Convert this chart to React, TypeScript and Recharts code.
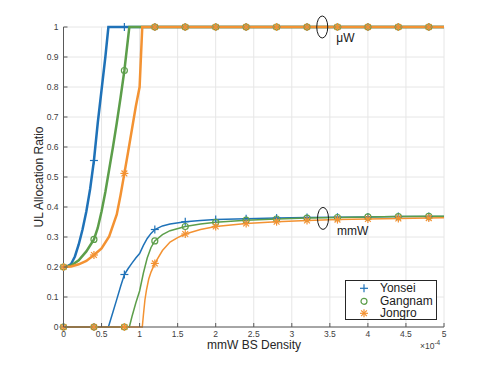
import React from "react"
import {
  ComposedChart,
  Line,
  XAxis,
  YAxis,
  CartesianGrid,
  ReferenceDot,
} from "recharts"

// marker positions along x (units of 1e-4)
const markerX = [0, 0.4, 0.8, 1.2, 1.6, 2.0, 2.4, 2.8, 3.2, 3.6, 4.0, 4.4, 4.8]
const xTicks = [0, 0.5, 1, 1.5, 2, 2.5, 3, 3.5, 4, 4.5, 5]
const yTicks = [0, 0.1, 0.2, 0.3, 0.4, 0.5, 0.6, 0.7, 0.8, 0.9, 1]

const plateau: [number, number][] = [
  [1.2, 1], [1.6, 1], [2.0, 1], [2.4, 1], [2.8, 1], [3.2, 1], [3.6, 1], [4.0, 1], [4.4, 1], [4.8, 1], [5, 1],
]

const yonseiUw: [number, number][] = [
  [0, 0.2], [0.05, 0.202], [0.1, 0.21], [0.15, 0.235], [0.2, 0.275], [0.25, 0.325],
  [0.3, 0.385], [0.35, 0.46], [0.4, 0.555], [0.45, 0.68], [0.5, 0.79], [0.55, 0.9],
  [0.59, 1], [0.8, 1], ...plateau,
]
const gangnamUw: [number, number][] = [
  [0, 0.2], [0.1, 0.205], [0.2, 0.222], [0.3, 0.252], [0.4, 0.292], [0.45, 0.33],
  [0.5, 0.385], [0.55, 0.45], [0.6, 0.525], [0.65, 0.6], [0.7, 0.68], [0.75, 0.765],
  [0.8, 0.855], [0.865, 1], ...plateau,
]
const jongroUw: [number, number][] = [
  [0, 0.2], [0.1, 0.202], [0.2, 0.209], [0.3, 0.22], [0.4, 0.24], [0.5, 0.262],
  [0.6, 0.302], [0.7, 0.375], [0.75, 0.44], [0.8, 0.512], [0.85, 0.585], [0.9, 0.66],
  [0.95, 0.735], [1.0, 0.8], [1.035, 1], ...plateau,
]

const yonseiMmw: [number, number][] = [
  [0, 0], [0.4, 0], [0.59, 0], [0.65, 0.05], [0.7, 0.092], [0.75, 0.135], [0.8, 0.175],
  [0.85, 0.195], [0.9, 0.213], [0.95, 0.23], [1.0, 0.245], [1.05, 0.272], [1.1, 0.295],
  [1.15, 0.312], [1.2, 0.325], [1.3, 0.337], [1.4, 0.343], [1.6, 0.351], [1.8, 0.355],
  [2.0, 0.358], [2.4, 0.361], [2.8, 0.363], [3.2, 0.365], [3.6, 0.366], [4.0, 0.367],
  [4.4, 0.368], [4.8, 0.368], [5, 0.368],
]
const gangnamMmw: [number, number][] = [
  [0, 0], [0.4, 0], [0.8, 0], [0.865, 0], [0.9, 0.035], [0.95, 0.08], [1.0, 0.12],
  [1.05, 0.18], [1.1, 0.23], [1.15, 0.265], [1.2, 0.287], [1.3, 0.308], [1.4, 0.321],
  [1.6, 0.335], [1.8, 0.343], [2.0, 0.349], [2.4, 0.356], [2.8, 0.36], [3.2, 0.363],
  [3.6, 0.365], [4.0, 0.367], [4.4, 0.368], [4.8, 0.369], [5, 0.369],
]
const jongroMmw: [number, number][] = [
  [0, 0], [0.4, 0], [0.8, 0], [1.035, 0], [1.05, 0.04], [1.07, 0.09], [1.09, 0.123],
  [1.12, 0.16], [1.15, 0.183], [1.2, 0.212], [1.3, 0.255], [1.4, 0.283], [1.5, 0.298],
  [1.6, 0.31], [1.8, 0.325], [2.0, 0.335], [2.4, 0.345], [2.8, 0.351], [3.2, 0.355],
  [3.6, 0.358], [4.0, 0.36], [4.4, 0.362], [4.8, 0.363], [5, 0.364],
]

const BLUE = "#1f72b8"
const GREEN = "#5c9e4a"
const ORANGE = "#f39232"
const AXIS = "#595959"
const FONT = "'Liberation Sans', Arial, sans-serif"

const series = [
  { name: "Yonsei", color: BLUE, shape: "plus", uw: yonseiUw, mmw: yonseiMmw },
  { name: "Gangnam", color: GREEN, shape: "circle", uw: gangnamUw, mmw: gangnamMmw },
  { name: "Jongro", color: ORANGE, shape: "star", uw: jongroUw, mmw: jongroMmw },
]

const toPoints = (arr: [number, number][]) => arr.map(([x, y]) => ({ x, y }))

function Marker({ cx, cy, shape, color }: { cx: number; cy: number; shape: string; color: string }) {
  if (shape === "plus") {
    return (
      <g stroke={color} strokeWidth={1.2}>
        <line x1={cx - 4} x2={cx + 4} y1={cy} y2={cy} />
        <line x1={cx} x2={cx} y1={cy - 4} y2={cy + 4} />
      </g>
    )
  }
  if (shape === "circle") {
    return <circle cx={cx} cy={cy} r={3} fill="none" stroke={color} strokeWidth={1.2} />
  }
  return (
    <g stroke={color} strokeWidth={1.2}>
      <line x1={cx - 4} x2={cx + 4} y1={cy} y2={cy} />
      <line x1={cx} x2={cx} y1={cy - 4} y2={cy + 4} />
      <line x1={cx - 2.9} x2={cx + 2.9} y1={cy - 2.9} y2={cy + 2.9} />
      <line x1={cx - 2.9} x2={cx + 2.9} y1={cy + 2.9} y2={cy - 2.9} />
    </g>
  )
}

const makeDot = (shape: string, color: string) => (props: any) => {
  const { cx, cy, payload, key } = props
  const isMarker = markerX.some((m) => Math.abs(m - payload.x) < 1e-6)
  if (!isMarker || cx == null || cy == null) return <g key={key} />
  return (
    <g key={key}>
      <Marker cx={cx} cy={cy} shape={shape} color={color} />
    </g>
  )
}

const YTick = (props: any) => {
  const { x, y, payload } = props
  const ax = x + 5
  return (
    <g>
      <line x1={ax} x2={ax + 4} y1={y} y2={y} stroke={AXIS} strokeWidth={1} />
      <text x={x} y={y} dy="0.35em" textAnchor="end" fontSize={8.5} fill="#404040" fontFamily={FONT}>
        {String(Math.round(payload.value * 10) / 10)}
      </text>
    </g>
  )
}

const XTick = (props: any) => {
  const { x, y, payload } = props
  const ay = y - 3
  return (
    <g>
      <line x1={x} x2={x} y1={ay} y2={ay - 4} stroke={AXIS} strokeWidth={1} />
      <text x={x} y={y} dy="0.78em" textAnchor="middle" fontSize={8.5} fill="#404040" fontFamily={FONT}>
        {String(payload.value)}
      </text>
    </g>
  )
}

const annotation = (label: string, dy: number) => (props: any) => {
  const { cx, cy } = props
  return (
    <g>
      <ellipse cx={cx} cy={cy} rx={5.5} ry={11} fill="none" stroke="#1a1a1a" strokeWidth={1} />
      <text x={cx + 14} y={cy + dy} fontSize={12} fill="#1a1a1a" fontFamily={FONT}>
        {label}
      </text>
    </g>
  )
}

export default function App() {
  return (
    <div style={{ position: "fixed", left: 0, top: 0, width: 491, height: 368, background: "#fff" }}>
      <ComposedChart
        width={491}
        height={368}
        margin={{ top: 27, right: 47, bottom: 0, left: 0 }}
      >
        <CartesianGrid stroke="#e6e6e6" strokeWidth={1} />
        <XAxis
          dataKey="x"
          type="number"
          domain={[0, 5]}
          ticks={xTicks}
          height={41}
          stroke={AXIS}
          tickLine={false}
          tickSize={1}
          tickMargin={2}
          tick={<XTick />}
          allowDuplicatedCategory={false}
        />
        <YAxis
          dataKey="y"
          type="number"
          domain={[0, 1]}
          ticks={yTicks}
          width={63.5}
          stroke={AXIS}
          tickLine={false}
          tickSize={3}
          tickMargin={2}
          tick={<YTick />}
        />
        {series.map((s) => (
          <Line
            key={s.name + "-mmw"}
            data={toPoints(s.mmw)}
            dataKey="y"
            type="linear"
            stroke={s.color}
            strokeWidth={1.5}
            dot={makeDot(s.shape, s.color)}
            activeDot={false}
            isAnimationActive={false}
          />
        ))}
        {series.map((s) => (
          <Line
            key={s.name + "-uw"}
            data={toPoints(s.uw)}
            dataKey="y"
            type="linear"
            stroke={s.color}
            strokeWidth={2.5}
            dot={makeDot(s.shape, s.color)}
            activeDot={false}
            isAnimationActive={false}
          />
        ))}
        <ReferenceDot x={3.4} y={1} r={0} shape={annotation("\u03bcW", 15)} ifOverflow="visible" />
        <ReferenceDot x={3.41} y={0.362} r={0} shape={annotation("mmW", 17)} ifOverflow="visible" />
      </ComposedChart>

      <svg
        width={491}
        height={368}
        style={{ position: "absolute", left: 0, top: 0, pointerEvents: "none" }}
      >
        <text
          x={0}
          y={0}
          transform="translate(43 177) rotate(-90)"
          textAnchor="middle"
          fontSize={12}
          fill="#262626"
          fontFamily={FONT}
        >
          UL Allocation Ratio
        </text>
        <text x={254} y={349} textAnchor="middle" fontSize={12} fill="#262626" fontFamily={FONT}>
          mmW BS Density
        </text>
        <text x={420} y={349} fontSize={8.5} fill="#404040" fontFamily={FONT}>
          {"\u00d710"}
          <tspan dy={-4.5} fontSize={6.5}>
            -4
          </tspan>
        </text>
      </svg>

      <div
        style={{
          position: "absolute",
          left: 345,
          top: 280,
          width: 90,
          height: 38,
          border: "1px solid #262626",
          background: "#fff",
          fontFamily: FONT,
          fontSize: 12,
          color: "#1a1a1a",
        }}
      >
        {series.map((s, i) => (
          <div
            key={s.name}
            style={{ position: "absolute", left: 0, top: 1 + i * 12.5, height: 12.5, width: 90 }}
          >
            <svg width={20} height={12.5} style={{ position: "absolute", left: 8, top: 0 }}>
              <Marker cx={10} cy={6.3} shape={s.shape} color={s.color} />
            </svg>
            <span style={{ position: "absolute", left: 34, top: -1, lineHeight: "14px" }}>{s.name}</span>
          </div>
        ))}
      </div>
    </div>
  )
}
